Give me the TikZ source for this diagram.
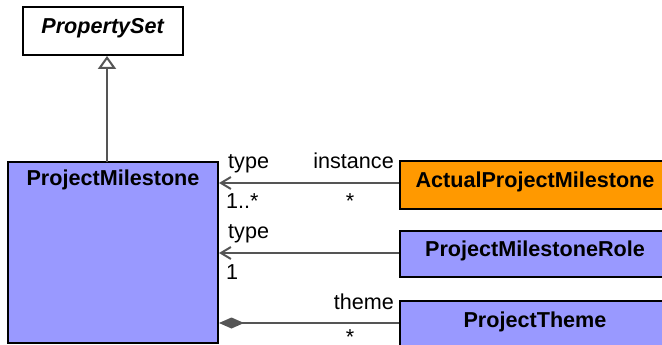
\documentclass[tikz,border=0pt]{standalone}
\usepackage{fontspec}
\setmainfont{Liberation Sans}
\usetikzlibrary{arrows.meta}
\definecolor{clsblue}{HTML}{9999FF}
\definecolor{clsorange}{HTML}{FF9900}
\definecolor{linegray}{HTML}{555555}
\tikzset{
  txt/.style={font=\fontsize{21.6}{26}\selectfont, inner sep=0pt},
  cls/.style={draw=black, line width=2pt, txt},
  boxtext/.style={text height=15.7pt, text depth=11.5pt},
  bluecls/.style={cls, fill=clsblue},
  orangecls/.style={cls, fill=clsorange},
  conn/.style={draw=linegray, line width=2pt},
  assoc/.style={conn, -{Straight Barb[length=10pt,width=12pt,line width=2pt]}},
  comp/.style={conn, {Diamond[length=25pt,width=11pt,fill=linegray]}-},
  gen/.style={conn, -{Triangle[open,length=13pt,width=18pt,fill=white]}},
}
\begin{document}
\begin{tikzpicture}[x=1pt,y=1pt]
\useasboundingbox (0,0) rectangle (662,-345);
\clip (0,0) rectangle (662,-345);
\fill[white] (0,0) rectangle (662,-345);
% classes
\node[cls, boxtext, fill=white, minimum width=160pt, minimum height=48pt] (ps) at (103,-31) {\textbf{\textit{PropertySet}}};
\node[bluecls, minimum width=210pt, minimum height=181pt] (pm) at (113,-252.5) {};
\node[txt, anchor=north] (pmname) at ([yshift=-9pt]pm.north) {\textbf{ProjectMilestone}};
\node[orangecls, boxtext, minimum width=270pt, minimum height=48pt] (apm) at (535,-185) {\textbf{ActualProjectMilestone}};
\node[bluecls, boxtext, minimum width=270pt, minimum height=46pt] (pmr) at (535,-254) {\textbf{ProjectMilestoneRole}};
\node[bluecls, boxtext, minimum width=270pt, minimum height=48pt] (pt) at (535,-325) {\textbf{ProjectTheme}};
% generalization
\coordinate (gbot) at (107,-162);
\draw[gen] (gbot) -- (gbot |- ps.south);
% associations
\draw[assoc] ([yshift=2pt]apm.west) -- ([yshift=2pt]pm.east |- apm.west);
\draw[assoc] ([yshift=1pt]pmr.west) -- ([yshift=1pt]pm.east |- pmr.west);
\draw[comp] ([yshift=2pt]pm.east |- pt.west) -- ([yshift=2pt]pt.west);
% labels
\node[txt, anchor=base west] (l1) at (228,-168) {type};
\node[txt, anchor=base east] (l2) at (394,-168) {instance};
\node[txt, anchor=base west] (l3) at (226,-208.5) {1..*};
\node[txt, anchor=base] (l4) at (350,-208.5) {*};
\node[txt, anchor=base west] (l5) at (228,-238) {type};
\node[txt, anchor=base west] (l6) at (226,-279) {1};
\node[txt, anchor=base east] (l7) at (394,-309) {theme};
\node[txt, anchor=base] (l8) at (350,-344.8) {*};
\end{tikzpicture}
\end{document}
